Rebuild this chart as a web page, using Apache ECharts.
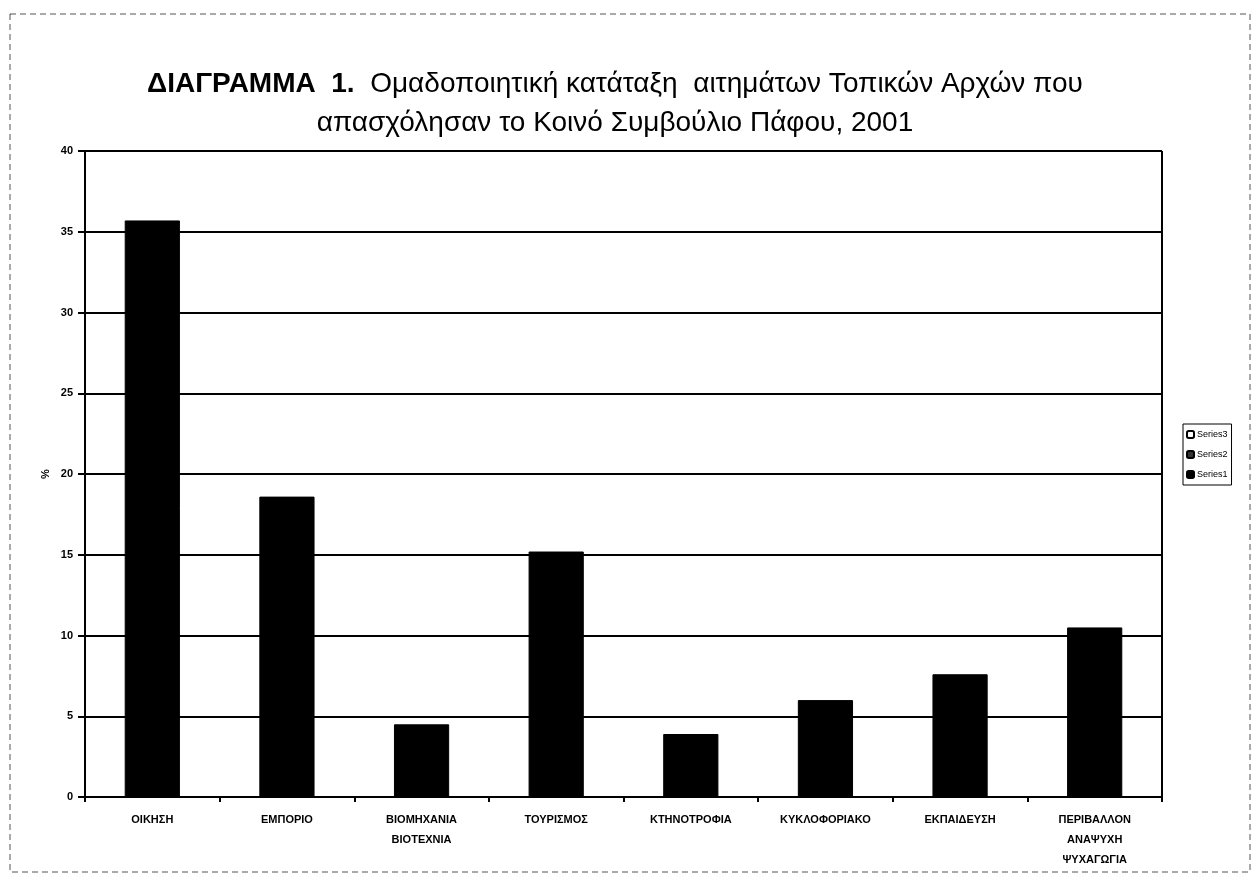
<!DOCTYPE html>
<html>
<head>
<meta charset="utf-8">
<script src="https://cdn.jsdelivr.net/npm/echarts@6/dist/echarts.min.js"></script>
<style>
html,body{margin:0;padding:0;background:#fff;}
#chart{width:1252px;height:881px;}
</style>
</head>
<body>
<div id="chart"></div>
<script>
var categories = ['ΟΙΚΗΣΗ', 'ΕΜΠΟΡΙΟ', 'ΒΙΟΜΗΧΑΝΙΑ\nΒΙΟΤΕΧΝΙΑ', 'ΤΟΥΡΙΣΜΟΣ', 'ΚΤΗΝΟΤΡΟΦΙΑ', 'ΚΥΚΛΟΦΟΡΙΑΚΟ', 'ΕΚΠΑΙΔΕΥΣΗ', 'ΠΕΡΙΒΑΛΛΟΝ\nΑΝΑΨΥΧΗ\nΨΥΧΑΓΩΓΙΑ'];
var series1 = [35.7, 18.6, 4.5, 15.2, 3.9, 6.0, 7.6, 10.5];
var series2 = [];
var series3 = [];
var legendNames = ['Series3', 'Series2', 'Series1'];

var chart = echarts.init(document.getElementById('chart'));
chart.setOption({
  backgroundColor: '#ffffff',
  animation: false,
  title: {
    text: '{b|ΔΙΑΓΡΑΜΜΑ  1.}  Ομαδοποιητική κατάταξη  αιτημάτων Τοπικών Αρχών που\nαπασχόλησαν το Κοινό Συμβούλιο Πάφου, 2001',
    left: 610,
    textAlign: 'center',
    top: 60,
    textStyle: {
      fontFamily: 'Liberation Sans',
      fontSize: 28,
      fontWeight: 'normal',
      color: '#000',
      lineHeight: 39,
      rich: {
        b: { fontFamily: 'Liberation Sans', fontSize: 28, fontWeight: 'bold', color: '#000' }
      }
    }
  },
  legend: {
    data: legendNames,
    orient: 'vertical',
    left: 1183,
    top: 424,
    itemWidth: 7,
    itemHeight: 7,
    itemGap: 11,
    padding: [6, 4, 6, 3],
    borderColor: '#000',
    borderWidth: 1,
    textStyle: { fontFamily: 'Liberation Sans', fontSize: 9, color: '#000', padding: [0, 0, 0, -2] }
  },
  graphic: [{
    type: 'rect',
    shape: { x: 10, y: 14, width: 1240, height: 858 },
    style: { fill: 'none', stroke: '#555', lineWidth: 1, lineDash: [6, 4] },
    silent: true
  }],
  grid: { left: 85, right: 90, top: 151, bottom: 84 },
  xAxis: {
    type: 'category',
    data: categories,
    axisLine: { show: true, lineStyle: { color: '#000', width: 2 } },
    axisTick: { show: true, alignWithLabel: false, length: 5, lineStyle: { color: '#000', width: 2 } },
    axisLabel: {
      interval: 0,
      margin: 13,
      fontFamily: 'Liberation Sans',
      fontSize: 11,
      fontWeight: 'bold',
      color: '#000',
      lineHeight: 20
    },
    splitLine: { show: false }
  },
  yAxis: {
    type: 'value',
    min: 0,
    max: 40,
    interval: 5,
    name: '%',
    nameLocation: 'middle',
    nameGap: 34,
    nameMoveOverlap: false,
    nameTextStyle: { fontFamily: 'Liberation Sans', fontSize: 11, fontWeight: 'bold', color: '#000' },
    axisLine: { show: true, lineStyle: { color: '#000', width: 2 } },
    axisTick: { show: true, length: 7, lineStyle: { color: '#000', width: 2 } },
    axisLabel: { fontFamily: 'Liberation Sans', fontSize: 11, fontWeight: 'bold', color: '#000', margin: 12 },
    splitLine: { show: true, lineStyle: { color: '#000', width: 2 } }
  },
  series: [
    {
      name: 'Series1', type: 'bar', stack: 's', data: series1, barWidth: '41%',
      itemStyle: { color: '#000', borderColor: '#000', borderWidth: 1 }
    },
    {
      name: 'Series2', type: 'bar', stack: 's', data: series2,
      itemStyle: { color: '#333', borderColor: '#000', borderWidth: 1 }
    },
    {
      name: 'Series3', type: 'bar', stack: 's', data: series3,
      itemStyle: { color: '#fff', borderColor: '#000', borderWidth: 1 }
    },
    {
      type: 'line', data: [], silent: true,
      markLine: {
        symbol: 'none', silent: true, label: { show: false },
        lineStyle: { color: '#000', width: 2, type: 'solid' },
        data: [[{ x: 1162, y: 151 }, { x: 1162, y: 797 }]]
      }
    }
  ]
});
</script>
</body>
</html>
